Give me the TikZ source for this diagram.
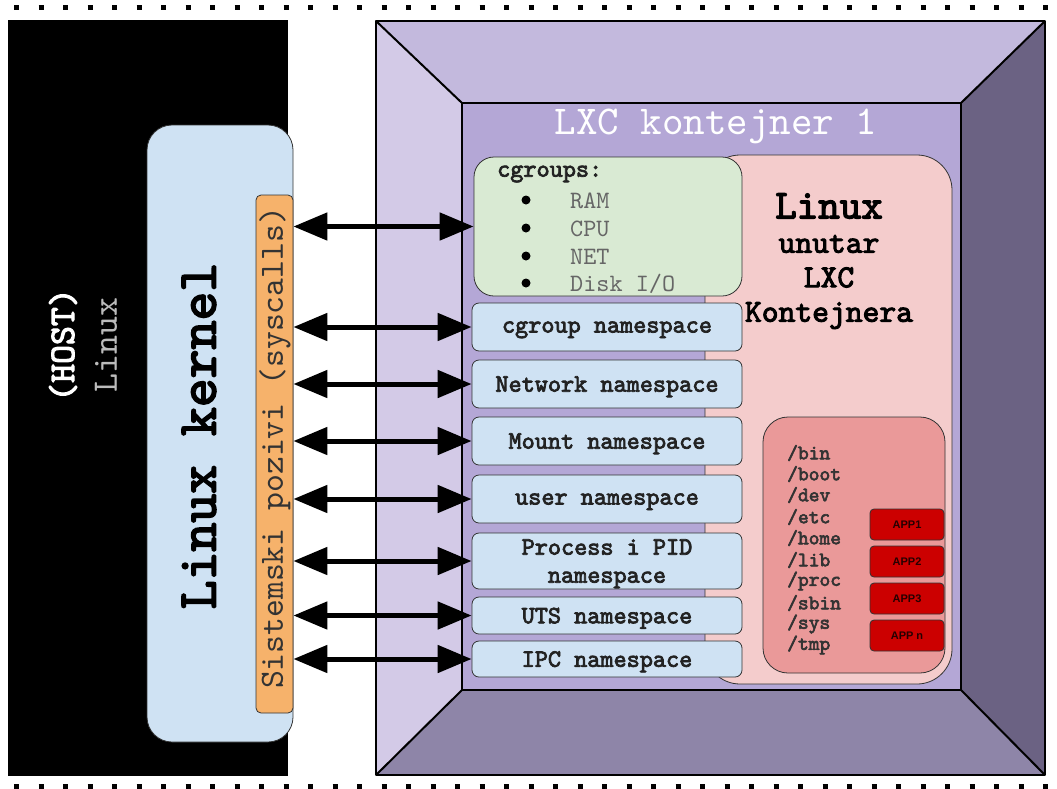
\documentclass[tikz,border=0pt]{standalone}
\usepackage{fontspec}
\setsansfont{Liberation Sans}
\setmonofont{lmmono10-regular.otf}[BoldFont=lmmono10-regular.otf, BoldFeatures={FakeBold=3}]
\usetikzlibrary{arrows.meta}
\definecolor{kblue}{HTML}{CFE2F3}
\definecolor{sysorange}{HTML}{F6B26B}
\definecolor{ftop}{HTML}{C3B9DD}
\definecolor{fleft}{HTML}{D3CAE7}
\definecolor{fright}{HTML}{6B6283}
\definecolor{fbottom}{HTML}{8E85A8}
\definecolor{finner}{HTML}{B4A7D6}
\definecolor{cgreen}{HTML}{D9EAD3}
\definecolor{lpink}{HTML}{F4CCCC}
\definecolor{fsred}{HTML}{EA9999}
\definecolor{appred}{HTML}{CC0000}
\definecolor{linecol}{HTML}{333333}
\definecolor{txtdark}{HTML}{222222}
\definecolor{txtgray}{HTML}{666666}
\definecolor{hostgray}{HTML}{BBBBBB}
\tikzset{
  facet/.style={draw=black, line width=2pt, line join=round},
  nsbox/.style={draw=linecol, fill=kblue, rounded corners=7pt, line width=0.8pt,
    minimum width=270pt, inner sep=0pt, align=center, text=txtdark, text depth=0pt,
    font=\ttfamily\bfseries\fontsize{25}{28}\selectfont},
  appbox/.style={draw=linecol, fill=appred, rounded corners=4pt, line width=0.8pt,
    minimum width=74pt, minimum height=31pt, inner sep=0pt, text=black!85!red,
    font=\sffamily\bfseries\fontsize{11}{13}\selectfont},
  fsitem/.style={anchor=west, inner sep=0pt, text=linecol,
    font=\ttfamily\bfseries\fontsize{20.5}{22}\selectfont},
  cgitem/.style={anchor=west, inner sep=0pt, text=txtgray,
    font=\ttfamily\fontsize{25}{27}\selectfont},
  dblarrow/.style={line width=5pt,
    {Triangle[length=34pt,width=27pt]}-{Triangle[length=34pt,width=27pt]}},
  dots/.style={line width=5pt, dash pattern=on 5pt off 19.5pt}
}
\begin{document}
\begin{tikzpicture}[x=1pt,y=-1pt]
\useasboundingbox (0,0) rectangle (1057,788);
% dotted borders
\draw[dots] (14,7) -- (1057,7);
\draw[dots] (14,786) -- (1057,786);
% host
\fill[black] (8,20) rectangle (288,776);
\node[rotate=90, text=white, font=\ttfamily\bfseries\fontsize{36}{40}\selectfont] (host) at (63,345) {(HOST)};
\node[rotate=90, text=hostgray, font=\ttfamily\fontsize{36}{40}\selectfont] (hostlinux) at (106,345) {Linux};
% kernel
\node[draw=linecol, fill=kblue, rounded corners=25pt, line width=0.8pt, minimum width=146pt, minimum height=617pt, inner sep=0pt] (kernel) at (220,433.5) {};
\node[draw=linecol, fill=sysorange, rounded corners=5pt, line width=0.8pt, minimum width=37pt, minimum height=518pt, inner sep=0pt] (sys) at (274.5,454) {};
\node[rotate=90, text=black, font=\ttfamily\bfseries\fontsize{55}{60}\selectfont] (kerneltxt) at (199,436) {Linux kernel};
\node[rotate=90, text=linecol, font=\ttfamily\fontsize{34}{38}\selectfont] (systxt) at (275,448) {Sistemski pozivi (syscalls)};
% container frame
\fill[ftop] (376,21) -- (1045,21) -- (961,103) -- (462,103) -- cycle;
\fill[fleft] (376,21) -- (462,103) -- (462,690) -- (376,775) -- cycle;
\fill[fright] (1045,21) -- (1045,775) -- (961,690) -- (961,103) -- cycle;
\fill[fbottom] (376,775) -- (1045,775) -- (961,690) -- (462,690) -- cycle;
\draw[facet, fill=finner] (462,103) rectangle (961,690);
\draw[facet] (376,21) rectangle (1045,775);
\draw[facet] (376,21) -- (462,103) (1045,21) -- (961,103) (1045,775) -- (961,690) (376,775) -- (462,690);
\node[text=white, font=\ttfamily\fontsize{41}{45}\selectfont] (title) at (716,126) {LXC kontejner 1};
% pink linux box
\node[draw=linecol, fill=lpink, rounded corners=35pt, line width=0.8pt, minimum width=247pt, minimum height=529pt, inner sep=0pt] (lin) at (828.5,419.5) {};
\node[font=\ttfamily\bfseries\fontsize{41}{45}\selectfont] (lintxt) at (829,206) {Linux};
\node[font=\ttfamily\bfseries\fontsize{32}{34.5}\selectfont, align=center] (lintxt2) at (829,282) {unutar\\LXC\\Kontejnera};
% cgroups box
\node[draw=linecol, fill=cgreen, rounded corners=20pt, line width=0.8pt, minimum width=268pt, minimum height=139pt, inner sep=0pt] (cg) at (608,226.5) {};
\node[anchor=west, inner sep=0pt, text=txtdark, font=\ttfamily\bfseries\fontsize{25}{27}\selectfont] (cgtitle) at (497,174) {cgroups:};
\foreach \y/\t [count=\i] in {200/RAM, 228/CPU, 256/NET, 283/{Disk I/O}} {
  \fill[black] (526,\y) circle (4.5pt);
  \node[cgitem] (cgi\i) at (570,\y+1) {\t};
}
% namespaces
\node[nsbox, minimum height=48pt] (ns1) at (607,327) {cgroup namespace};
\node[nsbox, minimum height=48pt] (ns2) at (607,384) {Network namespace};
\node[nsbox, minimum height=48pt] (ns3) at (607,441) {Mount namespace};
\node[nsbox, minimum height=48pt] (ns4) at (607,499) {user namespace};
\node[nsbox, minimum height=56pt] (ns5) at (607,561) {Process i PID\\namespace};
\node[nsbox, minimum height=37pt] (ns6) at (607,615.5) {UTS namespace};
\node[nsbox, minimum height=36pt] (ns7) at (607,659) {IPC namespace};
% filesystem box
\node[draw=linecol, fill=fsred, rounded corners=25pt, line width=0.8pt, minimum width=182pt, minimum height=256pt, inner sep=0pt] (fs) at (854,545) {};
\foreach \y/\t [count=\i] in {453/{/bin}, 474/{/boot}, 495/{/dev}, 517/{/etc}, 538/{/home}, 560/{/lib}, 581/{/proc}, 603/{/sbin}, 624/{/sys}, 645/{/tmp}} {
  \node[fsitem] (fs\i) at (787,\y) {\t};
}
\node[appbox] (app1) at (907,524.5) {APP1};
\node[appbox] (app2) at (907,561.5) {APP2};
\node[appbox] (app3) at (907,598.5) {APP3};
\node[appbox] (appn) at (907,635.5) {APP n};
% syscall arrows
\foreach \n in {cg, ns1, ns2, ns3, ns4, ns5, ns6, ns7} {
  \draw[dblarrow] (sys.east |- \n.west) -- (\n.west);
}
\end{tikzpicture}
\end{document}
